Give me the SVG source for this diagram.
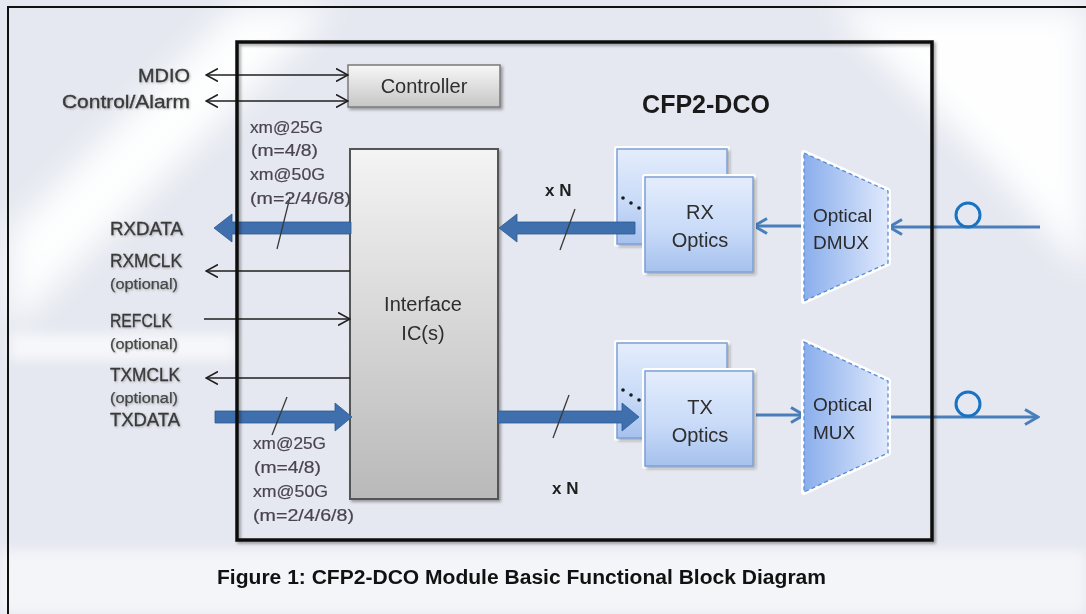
<svg xmlns="http://www.w3.org/2000/svg" width="1086" height="614" viewBox="0 0 1086 614">
  <defs>
    <style>
      .sans { font-family: "Liberation Sans", Arial, sans-serif; }
      .lbl { font-family: "Liberation Sans", Arial, sans-serif; font-size: 19px; fill: #3a3a3a; stroke: #3a3a3a; stroke-width: 0.35px; }
      .opt { font-family: "Liberation Sans", Arial, sans-serif; font-size: 14px; fill: #474747; stroke: #474747; stroke-width: 0.25px; }
      .xm { font-family: "Liberation Sans", Arial, sans-serif; font-size: 17px; fill: #4a4450; stroke: #4a4450; stroke-width: 0.2px; }
      .box-txt { font-family: "Liberation Sans", Arial, sans-serif; font-size: 20px; fill: #2e2e2e; text-anchor: middle; }
      .opt-txt { font-family: "Liberation Sans", Arial, sans-serif; font-size: 19px; fill: #2b2b2b; }
      .xn { font-family: "Liberation Sans", Arial, sans-serif; font-size: 17px; font-weight: bold; fill: #1e1e1e; }
      .wire { fill: none; stroke: #1f1f1f; stroke-width: 1.6; }
      .fiber { fill: none; stroke: #4a7ebb; stroke-width: 3; }
      .slash { fill: none; stroke: #3a3a3a; stroke-width: 1.3; }
      .bus { fill: #3f6fad; stroke: #2c5a92; stroke-width: 0.8; }
      .optics { fill: url(#gBlue); stroke: #7c9fd6; stroke-width: 1.5; }
      .halo { fill: #ffffff; stroke: #ffffff; stroke-width: 6; stroke-linejoin: round; }
      .trap { fill: url(#gTrap); stroke: #5b8ed4; stroke-width: 1.3; stroke-dasharray: 4 3; }
      .conn { fill: none; stroke: #1a73c2; stroke-width: 3; }
    </style>
    <linearGradient id="gBlue" x1="0" y1="0" x2="0" y2="1">
      <stop offset="0" stop-color="#e4edfc"/>
      <stop offset="0.55" stop-color="#c9dbf8"/>
      <stop offset="1" stop-color="#a6c1ee"/>
    </linearGradient>
    <linearGradient id="gTrap" x1="0" y1="0" x2="1" y2="0">
      <stop offset="0" stop-color="#8aaeec"/>
      <stop offset="1" stop-color="#dfe9fc"/>
    </linearGradient>
    <linearGradient id="gCtrl" x1="0" y1="0" x2="0" y2="1">
      <stop offset="0" stop-color="#f7f7f7"/>
      <stop offset="1" stop-color="#c6c6c6"/>
    </linearGradient>
    <linearGradient id="gIC" x1="0" y1="0" x2="0" y2="1">
      <stop offset="0" stop-color="#f4f4f4"/>
      <stop offset="1" stop-color="#b9b9b9"/>
    </linearGradient>
    <filter id="soft" x="-30%" y="-30%" width="160%" height="160%">
      <feGaussianBlur stdDeviation="16"/>
    </filter>
    <filter id="softer" x="-30%" y="-100%" width="160%" height="300%">
      <feGaussianBlur stdDeviation="6"/>
    </filter>
    <filter id="shadow" x="-10%" y="-10%" width="130%" height="130%">
      <feDropShadow dx="2" dy="2" stdDeviation="1.6" flood-color="#000000" flood-opacity="0.35"/>
    </filter>
    <filter id="txtglow" x="-10%" y="-30%" width="120%" height="160%">
      <feDropShadow dx="1" dy="1" stdDeviation="0.8" flood-color="#000000" flood-opacity="0.25"/>
    </filter>
    <marker id="chev" viewBox="0 0 13 14" refX="12" refY="7" markerWidth="13" markerHeight="14" orient="auto-start-reverse" markerUnits="userSpaceOnUse">
      <path d="M0,0.5 L12,7 L0,13.5" fill="none" stroke="#1f1f1f" stroke-width="1.6"/>
    </marker>
    <marker id="bchev" viewBox="0 0 16 18" refX="14" refY="9" markerWidth="16" markerHeight="18" orient="auto-start-reverse" markerUnits="userSpaceOnUse">
      <path d="M1,1.5 L14,9 L1,16.5" fill="none" stroke="#4a7ebb" stroke-width="3"/>
    </marker>
  </defs>

  <!-- page background with soft light patches -->
  <rect x="0" y="0" width="1086" height="614" fill="#e5e8f0"/>
  <g opacity="0.95">
    <polygon points="235,7 335,7 10,330 10,232" fill="#ffffff" filter="url(#soft)"/>
    <polygon points="830,7 1086,7 1086,275 990,165" fill="#ffffff" filter="url(#soft)"/>
    <rect x="10" y="334" width="225" height="26" fill="#ffffff" opacity="0.7" filter="url(#softer)"/>
    <rect x="0" y="550" width="1086" height="64" fill="#ffffff" opacity="0.6" filter="url(#softer)"/>
  </g>
  <rect x="8" y="7" width="1100" height="630" fill="none" stroke="#111111" stroke-width="2"/>

  <!-- controller -->
  <g id="controller">
    <rect x="348" y="65" width="152" height="42" fill="url(#gCtrl)" stroke="#7a7a7a" stroke-width="1.5" filter="url(#shadow)"/>
    <text class="box-txt" x="424" y="93">Controller</text>
  </g>

  <!-- interface IC -->
  <g id="interface-ic">
    <rect x="350" y="149" width="148" height="350" fill="url(#gIC)" stroke="#555555" stroke-width="2" filter="url(#shadow)"/>
    <text class="box-txt" x="423" y="311">Interface</text>
    <text class="box-txt" x="423" y="340">IC(s)</text>
  </g>

  <!-- rear optics cards (stacked copies) -->
  <g id="rx-optics-back">
    <rect class="halo" x="617" y="149" width="110" height="95"/>
    <rect class="optics" x="617" y="149" width="110" height="95" filter="url(#shadow)"/>
    <circle cx="623" cy="198" r="1.8" fill="#1a1a1a"/>
    <circle cx="631" cy="203" r="1.8" fill="#1a1a1a"/>
    <circle cx="639" cy="208" r="1.8" fill="#1a1a1a"/>
  </g>
  <g id="tx-optics-back">
    <rect class="halo" x="617" y="343" width="110" height="95"/>
    <rect class="optics" x="617" y="343" width="110" height="95" filter="url(#shadow)"/>
    <circle cx="623" cy="390" r="1.8" fill="#1a1a1a"/>
    <circle cx="631" cy="395" r="1.8" fill="#1a1a1a"/>
    <circle cx="639" cy="400" r="1.8" fill="#1a1a1a"/>
  </g>

  <!-- connectors -->
  <g id="connectors">
    <!-- management lines -->
    <line class="wire" x1="206" y1="75" x2="348" y2="75" marker-start="url(#chev)" marker-end="url(#chev)"/>
    <line class="wire" x1="206" y1="101" x2="348" y2="101" marker-start="url(#chev)" marker-end="url(#chev)"/>
    <!-- clocks -->
    <line class="wire" x1="350" y1="271" x2="206" y2="271" marker-end="url(#chev)"/>
    <line class="wire" x1="204" y1="319" x2="350" y2="319" marker-end="url(#chev)"/>
    <line class="wire" x1="350" y1="378" x2="206" y2="378" marker-end="url(#chev)"/>
    <!-- host data buses -->
    <polygon class="bus" points="214,228 232,214 232,222 351,222 351,234 232,234 232,242"/>
    <polygon class="bus" points="215,411 335,411 335,403 352,417 335,431 335,423 215,423"/>
    <!-- line-side data buses -->
    <polygon class="bus" points="499,228 517,214 517,222 635,222 635,234 517,234 517,242"/>
    <polygon class="bus" points="498,411 622,411 622,403 639,417 622,431 622,423 498,423"/>
    <!-- bus width slashes -->
    <line class="slash" x1="290" y1="197" x2="277" y2="249"/>
    <line class="slash" x1="287" y1="397" x2="272" y2="435"/>
    <line class="slash" x1="575" y1="209" x2="560" y2="250"/>
    <line class="slash" x1="569" y1="395" x2="553" y2="438"/>
    <!-- optical paths -->
    <line class="fiber" x1="804" y1="226" x2="754" y2="226" marker-end="url(#bchev)"/>
    <line class="fiber" x1="1040" y1="227" x2="889" y2="227" marker-end="url(#bchev)"/>
    <line class="fiber" x1="753" y1="415" x2="804" y2="415" marker-end="url(#bchev)"/>
    <line class="fiber" x1="888" y1="417" x2="1038" y2="417" marker-end="url(#bchev)"/>
    <circle class="conn" cx="968" cy="215" r="12"/>
    <circle class="conn" cx="968" cy="404" r="12"/>
  </g>

  <!-- front optics cards -->
  <g id="rx-optics">
    <rect class="halo" x="645" y="177" width="108" height="95"/>
    <rect class="optics" x="645" y="177" width="108" height="95" filter="url(#shadow)"/>
    <text class="box-txt" x="700" y="219" font-size="19">RX</text>
    <text class="box-txt" x="700" y="247" font-size="19">Optics</text>
  </g>
  <g id="tx-optics">
    <rect class="halo" x="645" y="371" width="108" height="95"/>
    <rect class="optics" x="645" y="371" width="108" height="95" filter="url(#shadow)"/>
    <text class="box-txt" x="700" y="414" font-size="19">TX</text>
    <text class="box-txt" x="700" y="442" font-size="19">Optics</text>
  </g>

  <!-- optical demux / mux -->
  <g id="optical-dmux">
    <polygon class="halo" points="804,153 888,191 888,263 804,301"/>
    <polygon class="trap" points="804,153 888,191 888,263 804,301"/>
    <text class="opt-txt" x="813" y="222">Optical</text>
    <text class="opt-txt" x="813" y="249">DMUX</text>
  </g>
  <g id="optical-mux">
    <polygon class="halo" points="804,342 888,381 888,453 804,492"/>
    <polygon class="trap" points="804,342 888,381 888,453 804,492"/>
    <text class="opt-txt" x="813" y="411">Optical</text>
    <text class="opt-txt" x="813" y="439">MUX</text>
  </g>

  <!-- module outline -->
  <g id="module">
    <rect x="237" y="42" width="695" height="498" fill="none" stroke="#0a0a0a" stroke-width="3.5" filter="url(#shadow)"/>
    <text class="sans" x="706" y="113" font-size="25" font-weight="bold" fill="#1a1a1a" text-anchor="middle">CFP2-DCO</text>
  </g>

  <!-- host-side signal labels -->
  <g id="host-labels" filter="url(#txtglow)">
    <text class="lbl" x="190" y="82" text-anchor="end" textLength="52" lengthAdjust="spacingAndGlyphs">MDIO</text>
    <text class="lbl" x="190" y="108" text-anchor="end" textLength="128" lengthAdjust="spacingAndGlyphs">Control/Alarm</text>
    <text class="lbl" x="110" y="235" textLength="73" lengthAdjust="spacingAndGlyphs">RXDATA</text>
    <text class="lbl" x="110" y="267" textLength="72" lengthAdjust="spacingAndGlyphs">RXMCLK</text>
    <text class="opt" x="110" y="289" textLength="68" lengthAdjust="spacingAndGlyphs">(optional)</text>
    <text class="lbl" x="110" y="327" textLength="62" lengthAdjust="spacingAndGlyphs">REFCLK</text>
    <text class="opt" x="110" y="349" textLength="68" lengthAdjust="spacingAndGlyphs">(optional)</text>
    <text class="lbl" x="110" y="381" textLength="70" lengthAdjust="spacingAndGlyphs">TXMCLK</text>
    <text class="opt" x="110" y="403" textLength="68" lengthAdjust="spacingAndGlyphs">(optional)</text>
    <text class="lbl" x="110" y="426" textLength="70" lengthAdjust="spacingAndGlyphs">TXDATA</text>
  </g>

  <!-- lane rate notes -->
  <g id="lane-notes">
    <text class="xm" x="250" y="133" textLength="73" lengthAdjust="spacingAndGlyphs">xm@25G</text>
    <text class="xm" x="251" y="156" textLength="67" lengthAdjust="spacingAndGlyphs">(m=4/8)</text>
    <text class="xm" x="250" y="180" textLength="75" lengthAdjust="spacingAndGlyphs">xm@50G</text>
    <text class="xm" x="250" y="204" textLength="101" lengthAdjust="spacingAndGlyphs">(m=2/4/6/8)</text>
    <text class="xm" x="253" y="449" textLength="73" lengthAdjust="spacingAndGlyphs">xm@25G</text>
    <text class="xm" x="254" y="473" textLength="67" lengthAdjust="spacingAndGlyphs">(m=4/8)</text>
    <text class="xm" x="253" y="497" textLength="75" lengthAdjust="spacingAndGlyphs">xm@50G</text>
    <text class="xm" x="253" y="521" textLength="101" lengthAdjust="spacingAndGlyphs">(m=2/4/6/8)</text>
    <text class="xn" x="545" y="196">x N</text>
    <text class="xn" x="552" y="494">x N</text>
  </g>

  <!-- caption -->
  <text class="sans" x="217" y="584" font-size="20" font-weight="bold" fill="#111111" textLength="609" lengthAdjust="spacingAndGlyphs">Figure 1: CFP2-DCO Module Basic Functional Block Diagram</text>
</svg>
